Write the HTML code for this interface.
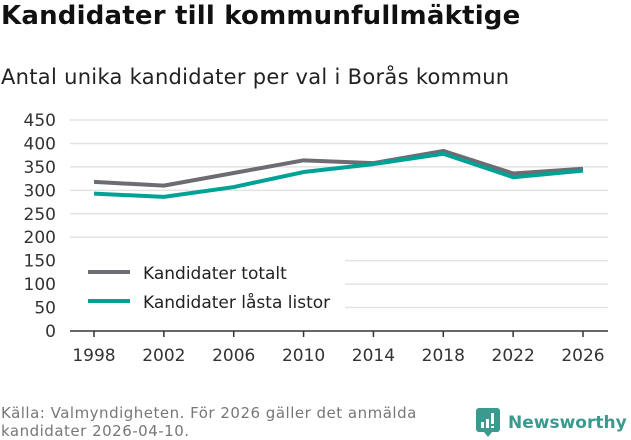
<!DOCTYPE html>
<html><head><meta charset="utf-8"><style>
body{margin:0;width:631px;height:439px;background:#fff;font-family:"DejaVu Sans","Liberation Sans",sans-serif;overflow:hidden;position:relative}
#title{position:absolute;left:1px;top:1px;font-size:26px;font-weight:bold;color:#111;letter-spacing:0.2px}
#sub{position:absolute;left:1px;top:65px;font-size:21px;color:#222;letter-spacing:0.3px}
#src{position:absolute;left:1px;top:404px;font-size:15px;color:#777;line-height:18px;letter-spacing:0.5px}
#logo{position:absolute;left:476px;top:408px;display:flex;align-items:center;color:#3a9a8e;font-size:17px;font-weight:bold}
</style></head><body>
<div id="title">Kandidater till kommunfullmäktige</div>
<div id="sub">Antal unika kandidater per val i Borås kommun</div>
<svg id="chart" width="631" height="439" style="position:absolute;left:0;top:0"></svg>
<div id="src">Källa: Valmyndigheten. För 2026 gäller det anmälda<br>kandidater 2026-04-10.</div>
<div id="logo"><svg width="26" height="30" style="margin-right:6px"><rect x="0" y="0" width="24" height="24" rx="3" fill="#3a9a8e"/><path d="M8 24 L12 29 L16 24Z" fill="#3a9a8e"/><rect x="5" y="14" width="3" height="6" fill="#fff"/><rect x="10" y="11" width="3" height="9" fill="#fff"/><rect x="15" y="5" width="3" height="11" fill="#fff"/><rect x="15" y="18" width="3" height="2" fill="#fff"/></svg>Newsworthy</div>
<script>
const years=["1998","2002","2006","2010","2014","2018","2022","2026"];
const totalt=[318,310,337,364,358,384,336,346];
const lasta=[293,286,307,339,356,378,328,342];
const yTicks=[0,50,100,150,200,250,300,350,400,450];
const seriesNames=["Kandidater totalt","Kandidater låsta listor"];
const NS="http://www.w3.org/2000/svg";
const svg=document.getElementById('chart');
const x=i=>94+i*(489/7);
const y=v=>331-v*(211/450);
function mk(t,a){const e=document.createElementNS(NS,t);for(const k in a)e.setAttribute(k,a[k]);svg.appendChild(e);return e;}
yTicks.forEach(v=>{
 if(v>0){const g=mk('line',{x1:70,x2:608,y1:y(v),y2:y(v),stroke:'#e3e3e3','stroke-width':1.5});
 
 }
 const t=mk('text',{x:56,y:y(v)+6,'text-anchor':'end','font-size':17,fill:'#333','font-family':'DejaVu Sans, sans-serif'});t.textContent=v;
 
 
});
const ax=mk('line',{x1:70,x2:608,y1:331,y2:331,stroke:'#333','stroke-width':1.5});


years.forEach((yr,i)=>{
 mk('line',{x1:x(i),x2:x(i),y1:331,y2:337,stroke:'#333','stroke-width':1.5});
 const t=mk('text',{x:x(i),y:361,'text-anchor':'middle','font-size':17,fill:'#333','font-family':'DejaVu Sans, sans-serif'});t.textContent=yr;
 
 
});
function line(d,c,n){const p=mk('polyline',{points:d.map((v,i)=>x(i)+','+y(v)).join(' '),fill:'none',stroke:c,'stroke-width':4,'stroke-linejoin':'round'});
 
 }
line(totalt,'#6e6c72','line-totalt');
line(lasta,'#00a296','line-lasta-listor');
const lb=mk('rect',{x:62,y:255,width:283,height:63,fill:'#fff'});


[['#6e6c72',272],['#00a296',301]].forEach((d,i)=>{
 mk('line',{x1:88,x2:130,y1:d[1],y2:d[1],stroke:d[0],'stroke-width':4});
 const t=mk('text',{x:143,y:d[1]+7,'font-size':17,fill:'#222','font-family':'DejaVu Sans, sans-serif'});t.textContent=seriesNames[i];
 
 
});
</script>
</body></html>
